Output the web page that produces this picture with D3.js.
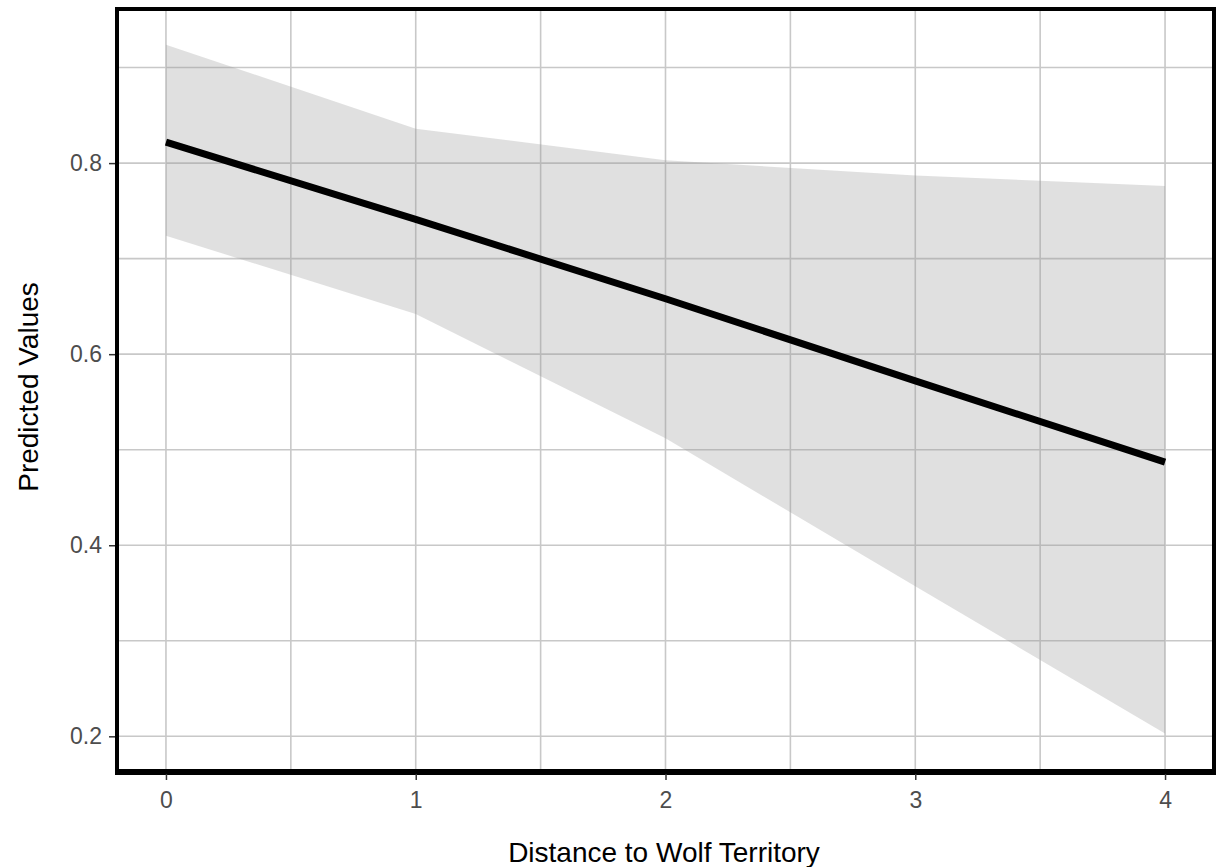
<!DOCTYPE html>
<html><head><meta charset="utf-8">
<script src="https://cdn.jsdelivr.net/npm/d3@7"></script>
<style>body{margin:0;background:#fff}svg{display:block}text{font-family:"Liberation Sans",Arial,sans-serif}</style>
</head><body>
<svg id="c" width="1222" height="867"></svg>
<script>
const distance = [0, 1, 2, 3, 4];
const predicted = [0.822, 0.741, 0.658, 0.572, 0.487];
const upper = [0.924, 0.836, 0.803, 0.787, 0.776];
const lower = [0.724, 0.642, 0.512, 0.357, 0.203];
const xTicks = [0, 1, 2, 3, 4];
const xGrid = [0, 0.5, 1, 1.5, 2, 2.5, 3, 3.5, 4];
const yTicks = [0.2, 0.4, 0.6, 0.8];
const yGrid = [0.2, 0.3, 0.4, 0.5, 0.6, 0.7, 0.8, 0.9];

const svg = d3.select("#c");
const L = 117, R = 1214, T = 9, B = 771;
const x = d3.scaleLinear().domain([-0.196, 4.196]).range([L, R]);
const y = d3.scaleLinear().domain([0.1637, 0.9613]).range([B, T]);

svg.append("g").selectAll("line").data(xGrid).join("line")
  .attr("x1", d => x(d)).attr("x2", d => x(d)).attr("y1", T).attr("y2", B)
  .attr("stroke", "#c8c8c8").attr("stroke-width", 1.6);
svg.append("g").selectAll("line").data(yGrid).join("line")
  .attr("y1", d => y(d)).attr("y2", d => y(d)).attr("x1", L).attr("x2", R)
  .attr("stroke", "#c8c8c8").attr("stroke-width", 1.6);

const band = distance.map((d, i) => ({x: d, lo: lower[i], hi: upper[i]}));
svg.append("path").datum(band)
  .attr("d", d3.area().x(d => x(d.x)).y0(d => y(d.lo)).y1(d => y(d.hi)))
  .attr("fill", "#999").attr("fill-opacity", 0.3);

const pts = distance.map((d, i) => ({x: d, y: predicted[i]}));
svg.append("path").datum(pts)
  .attr("d", d3.line().x(d => x(d.x)).y(d => y(d.y)))
  .attr("fill", "none").attr("stroke", "#000").attr("stroke-width", 7).attr("stroke-linecap", "butt");

svg.append("rect").attr("x", L).attr("y", T).attr("width", R - L).attr("height", B - T)
  .attr("fill", "none").attr("stroke", "#000").attr("stroke-width", 4);
svg.append("line").attr("x1", L - 2).attr("x2", R + 2).attr("y1", B + 1).attr("y2", B + 1)
  .attr("stroke", "#000").attr("stroke-width", 6);

const xa = svg.append("g").attr("transform", `translate(0,${B + 3})`)
  .call(d3.axisBottom(x).tickValues(xTicks).tickFormat(d3.format("d")).tickSize(6).tickPadding(12));
const ya = svg.append("g").attr("transform", `translate(${L - 2},0)`)
  .call(d3.axisLeft(y).tickValues(yTicks).tickFormat(d3.format(".1f")).tickSize(6).tickPadding(7));
[xa, ya].forEach(a => {
  a.attr("font-size", null).attr("font-family", null);
  a.select(".domain").remove();
  a.selectAll(".tick line").attr("stroke", "#333").attr("stroke-width", 1.5);
  a.selectAll(".tick text").attr("fill", "#4d4d4d").style("font-size", "23px");
});

svg.append("text").attr("x", 664).attr("y", 862).attr("text-anchor", "middle")
  .style("font-size", "28px").attr("fill", "#000").text("Distance to Wolf Territory");
svg.append("text").attr("transform", `translate(38,387) rotate(-90)`).attr("text-anchor", "middle")
  .style("font-size", "28px").attr("fill", "#000").text("Predicted Values");
</script>
</body></html>
